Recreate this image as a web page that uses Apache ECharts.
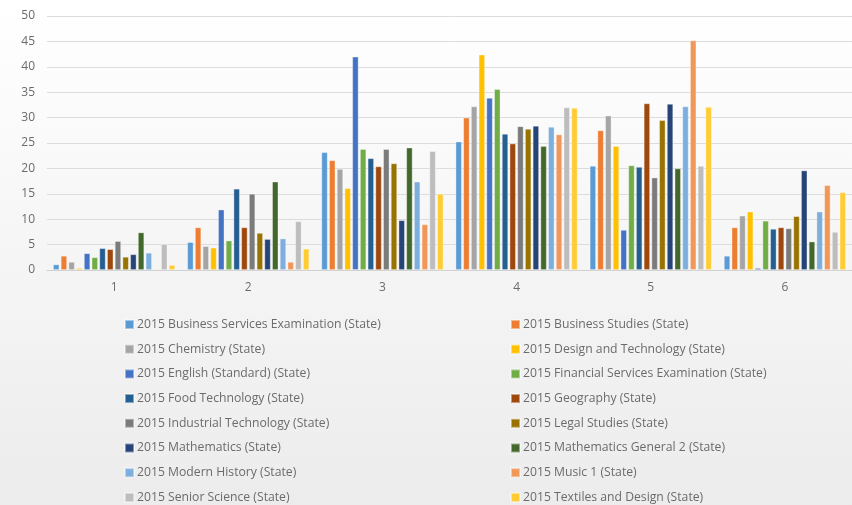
<!DOCTYPE html>
<html><head><meta charset="utf-8">
<script src="https://cdn.jsdelivr.net/npm/echarts@6/dist/echarts.min.js"></script>
<style>html,body{margin:0;padding:0;}#c{width:852px;height:505px;}</style>
</head><body><div id="c"></div>
<script>
const categories = ['1','2','3','4','5','6'];
const seriesNames = [
  '2015 Business Services Examination (State)',
  '2015 Business Studies (State)',
  '2015 Chemistry (State)',
  '2015 Design and Technology (State)',
  '2015 English (Standard) (State)',
  '2015 Financial Services Examination (State)',
  '2015 Food Technology (State)',
  '2015 Geography (State)',
  '2015 Industrial Technology (State)',
  '2015 Legal Studies (State)',
  '2015 Mathematics (State)',
  '2015 Mathematics General 2 (State)',
  '2015 Modern History (State)',
  '2015 Music 1 (State)',
  '2015 Senior Science (State)',
  '2015 Textiles and Design (State)'
];
const businessServices = [1.1, 5.5, 23.2, 25.3, 20.5, 2.8];
const businessStudies = [2.8, 8.4, 21.6, 30.0, 27.5, 8.4];
const chemistry = [1.6, 4.7, 19.9, 32.2, 30.4, 10.7];
const designTech = [0.4, 4.4, 16.1, 42.4, 24.4, 11.5];
const englishStd = [3.3, 11.9, 42.0, 33.9, 7.9, 0.4];
const financialServices = [2.5, 5.8, 23.8, 35.6, 20.6, 9.7];
const foodTech = [4.3, 16.0, 22.0, 26.8, 20.3, 8.1];
const geography = [4.1, 8.4, 20.4, 24.9, 32.8, 8.4];
const industrialTech = [5.7, 15.0, 23.8, 28.3, 18.2, 8.2];
const legalStudies = [2.6, 7.3, 21.0, 27.8, 29.5, 10.6];
const mathematics = [3.1, 6.1, 9.8, 28.4, 32.7, 19.6];
const mathsGeneral2 = [7.4, 17.4, 24.1, 24.4, 20.0, 5.6];
const modernHistory = [3.4, 6.2, 17.4, 28.2, 32.2, 11.5];
const music1 = [0.2, 1.6, 9.0, 26.7, 45.2, 16.7];
const seniorScience = [5.1, 9.6, 23.4, 32.0, 20.5, 7.5];
const textilesDesign = [1.0, 4.2, 15.0, 31.9, 32.1, 15.3];
const yTicks = [0, 5, 10, 15, 20, 25, 30, 35, 40, 45, 50];

const allValues = [businessServices, businessStudies, chemistry, designTech, englishStd,
  financialServices, foodTech, geography, industrialTech, legalStudies, mathematics,
  mathsGeneral2, modernHistory, music1, seniorScience, textilesDesign];
const colors = ['#5B9BD5','#ED7D31','#A5A5A5','#FFC000','#4472C4','#70AD47','#255E91','#9E480E',
  '#7B7B7B','#997300','#264478','#43682B','#7CAFDD','#F1975A','#BDBDBD','#FFCD33'];

const chart = echarts.init(document.getElementById('c'));
const font = 'Open Sans';
const series = seriesNames.map((n, i) => ({
  name: n, type: 'bar', data: allValues[i],
  barGap: '22%', barCategoryGap: '9%',
  itemStyle: { color: colors[i], borderColor: 'rgba(255,255,255,0.45)', borderWidth: 0.8 },
  emphasis: { disabled: true }
}));
const legendCommon = {
  orient: 'vertical', top: 318.5, height: 186, itemWidth: 9, itemHeight: 9, itemGap: 12.7,
  padding: 0,
  icon: 'rect', textStyle: { color: '#6b6b6b', fontSize: 12.2, lineHeight: 12, fontFamily: font, padding: [0,0,0,-2] },
  selectedMode: false
};
chart.setOption({
  animation: false,
  backgroundColor: { type: 'linear', x: 0, y: 0, x2: 0, y2: 1,
    colorStops: [{ offset: 0, color: '#ffffff' }, { offset: 1, color: '#ececec' }] },
  color: colors,
  grid: { left: 47, right: -1, top: 16, bottom: 235, containLabel: false },
  legend: [
    Object.assign({ left: 124, data: seriesNames.filter((_, i) => i % 2 === 0) }, legendCommon),
    Object.assign({ left: 510, data: seriesNames.filter((_, i) => i % 2 === 1) }, legendCommon)
  ],
  xAxis: {
    type: 'category', data: categories,
    axisLine: { lineStyle: { color: '#d0d0d0' } },
    axisTick: { show: false },
    axisLabel: { color: '#6b6b6b', fontSize: 12, fontFamily: font, margin: 12 }
  },
  yAxis: {
    type: 'value', min: yTicks[0], max: yTicks[yTicks.length - 1], interval: 5,
    axisLine: { show: false }, axisTick: { show: false },
    splitLine: { lineStyle: { color: '#dcdcdc', width: 1 } },
    axisLabel: { color: '#6b6b6b', fontSize: 12, fontFamily: font, margin: 12 }
  },
  series: series
});
</script></body></html>
